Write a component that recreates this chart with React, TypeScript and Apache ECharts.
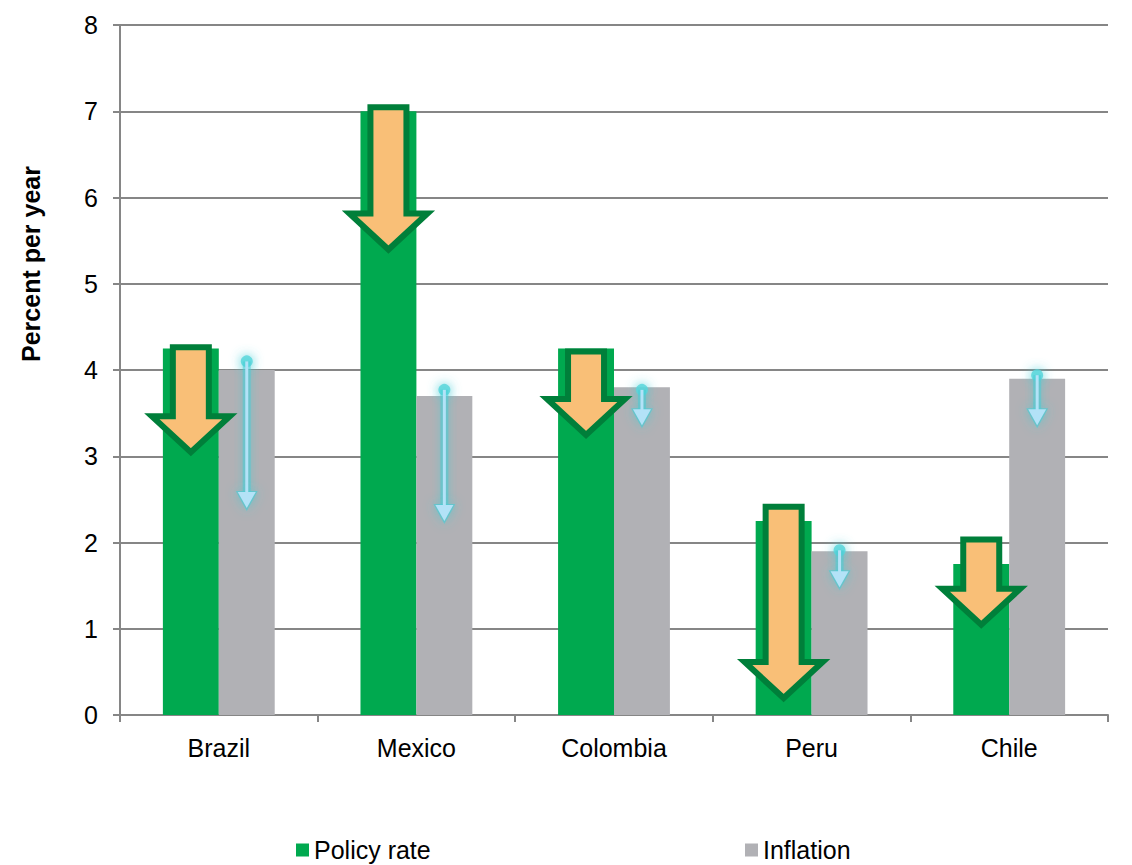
import React, { useEffect, useRef } from "react";
import * as echarts from "echarts";

const categories = ["Brazil", "Mexico", "Colombia", "Peru", "Chile"];
const policyRate = [4.25, 7.0, 4.25, 2.25, 1.75];
const inflation = [4.0, 3.7, 3.8, 1.9, 3.9];
// expected moves: [start, end]
const policyArrowStart = [4.3, 7.08, 4.25, 2.45, 2.07];
const policyArrowEnd = [3.0, 5.35, 3.2, 0.15, 1.0];
const inflationArrowStart = [4.1, 3.77, 3.77, 1.91, 3.94];
const inflationArrowEnd = [2.4, 2.25, 3.36, 1.48, 3.36];
const yTicks = [0, 1, 2, 3, 4, 5, 6, 7, 8];
const yAxisTitle = "Percent per year";

const GREEN = "#00A94F";
const GRAY = "#B1B1B5";
const ORANGE = "#F9BF77";
const DKGREEN = "#007F3A";
const BLUE = "#B3E2F7";
const GLOW = "#45CDD5";
const AXIS = "#868686";
const FONT = "'Liberation Sans', Arial, sans-serif";
const BAR_FRAC = 0.283;
const FS = 25;

export default function App() {
  const ref = useRef<HTMLDivElement>(null);
  useEffect(() => {
    if (!ref.current) return;
    const chart = echarts.init(ref.current, null, { renderer: "svg" });
    const policyArrowData = categories.map((_, i) => [i, policyArrowStart[i], policyArrowEnd[i]]);
    const inflArrowData = categories.map((_, i) => [i, inflationArrowStart[i], inflationArrowEnd[i]]);
    const legendCommon = {
      top: 837,
      padding: 0,
      icon: "rect",
      itemWidth: 13,
      itemHeight: 13,
      itemGap: 6,
      textStyle: { fontSize: FS, lineHeight: 26, color: "#000", fontFamily: FONT },
    };
    chart.setOption({
      animation: false,
      backgroundColor: "#ffffff",
      textStyle: { fontFamily: FONT },
      grid: { left: 120, right: 24, top: 25, bottom: 150, containLabel: false },
      legend: [
        { ...legendCommon, data: ["Policy rate"], left: 296 },
        { ...legendCommon, data: ["Inflation"], left: 745 },
      ],
      graphic: [
        {
          type: "text",
          x: 31,
          y: 264,
          rotation: Math.PI / 2,
          style: {
            text: yAxisTitle,
            fontSize: FS,
            fontWeight: "bold",
            fontFamily: FONT,
            fill: "#000",
            textAlign: "center",
            textVerticalAlign: "middle",
          },
        },
      ],
      xAxis: {
        type: "category",
        data: categories,
        axisLine: { show: true, lineStyle: { color: AXIS, width: 2 } },
        axisTick: { show: true, length: 7, lineStyle: { color: AXIS, width: 2 } },
        axisLabel: { fontSize: FS, color: "#000", margin: 20, fontFamily: FONT },
        splitLine: { show: false },
      },
      yAxis: {
        type: "value",
        min: yTicks[0],
        max: yTicks[yTicks.length - 1],
        interval: 1,
        axisLine: { show: true, lineStyle: { color: AXIS, width: 2 } },
        axisTick: { show: true, length: 7, lineStyle: { color: AXIS, width: 2 } },
        axisLabel: { fontSize: FS, color: "#000", margin: 22, fontFamily: FONT },
        splitLine: { show: true, lineStyle: { color: AXIS, width: 2 } },
      },
      series: [
        {
          name: "Policy rate",
          type: "bar",
          data: policyRate,
          barWidth: BAR_FRAC * 100 + "%",
          barGap: "0%",
          itemStyle: { color: GREEN },
          z: 2,
        },
        {
          name: "Inflation",
          type: "bar",
          data: inflation,
          barWidth: BAR_FRAC * 100 + "%",
          barGap: "0%",
          itemStyle: { color: GRAY },
          z: 2,
        },
        {
          name: "policyArrows",
          type: "custom",
          data: policyArrowData,
          encode: { x: 0, y: [1, 2] },
          z: 5,
          renderItem: (params: any, api: any) => {
            const ci = api.value(0);
            const p0 = api.coord([ci, api.value(1)]);
            const p1 = api.coord([ci, api.value(2)]);
            const band = api.size([1, 0])[0];
            const cx = p0[0] - (band * BAR_FRAC) / 2;
            const hs = 18, hh = 39, hl = 36;
            const top = p0[1] + 3;
            const tip = p1[1] - 4;
            const neck = tip - hl;
            return {
              type: "polygon",
              shape: {
                points: [
                  [cx - hs, top],
                  [cx + hs, top],
                  [cx + hs, neck],
                  [cx + hh, neck],
                  [cx, tip],
                  [cx - hh, neck],
                  [cx - hs, neck],
                ],
              },
              style: { fill: ORANGE, stroke: DKGREEN, lineWidth: 6, lineJoin: "miter" },
            };
          },
        },
        {
          name: "inflationArrows",
          type: "custom",
          data: inflArrowData,
          encode: { x: 0, y: [1, 2] },
          z: 5,
          renderItem: (params: any, api: any) => {
            const ci = api.value(0);
            const p0 = api.coord([ci, api.value(1)]);
            const p1 = api.coord([ci, api.value(2)]);
            const band = api.size([1, 0])[0];
            const cx = p0[0] + (band * BAR_FRAC) / 2;
            const top = p0[1];
            const tip = p1[1];
            const hl = 16, hw = 9;
            const neck = tip - hl;
            const glow = { shadowBlur: 12, shadowColor: GLOW };
            return {
              type: "group",
              children: [
                {
                  type: "circle",
                  shape: { cx, cy: top, r: 6 },
                  style: { fill: "rgba(90,215,220,0.85)", ...glow },
                },
                {
                  type: "rect",
                  shape: { x: cx - 4, y: top, width: 8, height: neck - top + 1 },
                  style: { fill: "rgba(69,205,213,0.5)", shadowBlur: 10, shadowColor: GLOW },
                },
                {
                  type: "polygon",
                  shape: { points: [[cx - hw - 2, neck - 1], [cx + hw + 2, neck - 1], [cx, tip + 3]] },
                  style: { fill: "rgba(69,205,213,0.6)", ...glow },
                },
                {
                  type: "polygon",
                  shape: { points: [[cx - hw, neck], [cx + hw, neck], [cx, tip]] },
                  style: { fill: BLUE },
                },
                {
                  type: "rect",
                  shape: { x: cx - 1.5, y: top, width: 3, height: neck - top + 1 },
                  style: { fill: BLUE },
                },
              ],
            };
          },
        },
      ],
    });
    return () => chart.dispose();
  }, []);
  return <div ref={ref} style={{ width: 1132, height: 865, position: "absolute", left: 0, top: 0 }} />;
}
